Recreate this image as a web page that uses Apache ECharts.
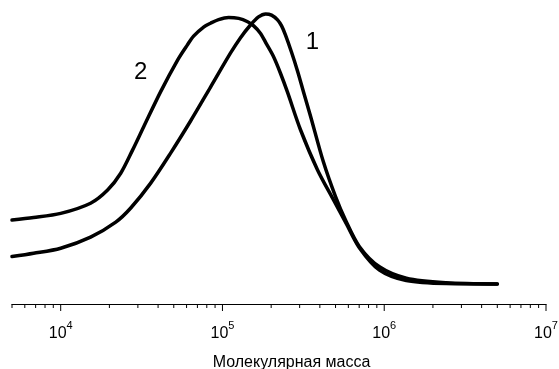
<!DOCTYPE html>
<html>
<head>
<meta charset="utf-8">
<script src="https://cdn.jsdelivr.net/npm/echarts@6/dist/echarts.min.js"></script>
<style>
  html, body { margin: 0; padding: 0; background: #fff; }
  #chart { width: 559px; height: 369px; }
</style>
</head>
<body>
<div id="chart"></div>
<script>
// curve 1
var mass1 = [5000, 6800, 10000, 15300, 21900, 27100, 36000, 47800, 63500, 84400, 112000, 129000, 149000,
  167000, 185000, 201000, 219000, 232000, 245000, 267000, 291000, 317000, 350000, 421000, 500000, 576000,
  703000, 934000, 1370000, 2420000, 5000000];
var value1 = [15.8, 16.9, 18.6, 22.3, 27.3, 32.0, 40.3, 50.3, 61.0, 72.3, 83.6, 88.7, 93.0,
  95.7, 96.7, 96.3, 94.7, 92.7, 89.7, 84.0, 77.7, 70.7, 62.7, 47.3, 35.8, 28.0,
  19.1, 12.4, 8.6, 7.1, 6.7];
// curve 2
var mass2 = [5000, 6800, 10000, 15300, 19500, 23500, 27800, 32600, 41500, 52800, 60600, 66300, 76800,
  84400, 94600, 109000, 126000, 143000, 156000, 172000, 187000, 207000, 228000, 252000, 304000, 387000,
  486000, 584000, 703000, 934000, 1370000, 2420000, 5000000];
var value2 = [28.0, 28.8, 30.2, 33.6, 38.0, 43.6, 51.3, 59.1, 70.8, 81.3, 86.3, 89.3, 92.4,
  93.6, 94.8, 95.5, 95.2, 94.1, 92.7, 90.2, 86.7, 82.4, 77.0, 70.7, 58.0, 44.7,
  34.7, 26.7, 18.7, 11.3, 7.8, 6.8, 6.7];

var majorTicks = [10000, 100000, 1000000, 10000000];
var minorTicks = [5000, 6000, 7000, 8000, 9000];
[10000, 100000, 1000000].forEach(function (d) {
  for (var k = 2; k <= 9; k++) minorTicks.push(k * d);
});

function zip(xs, ys) {
  return xs.map(function (x, i) { return [x, ys[i]]; });
}

function tickSeries(values, len) {
  return {
    type: 'custom',
    silent: true,
    clip: false,
    data: values.map(function (v) { return [v, 0]; }),
    renderItem: function (params, api) {
      var p = api.coord([api.value(0), 0]);
      return {
        type: 'line',
        shape: { x1: p[0], y1: p[1], x2: p[0], y2: p[1] + len },
        style: { stroke: '#000', lineWidth: 1 }
      };
    }
  };
}

var lineStyle = { color: '#000', width: 3.5, cap: 'round', join: 'round' };
var font = 'Liberation Sans, Arial, sans-serif';

var chart = echarts.init(document.getElementById('chart'));
chart.setOption({
  animation: false,
  grid: { left: 12, right: 13, top: 4, bottom: 65, outerBoundsMode: 'none' },
  xAxis: {
    type: 'log',
    logBase: 10,
    min: 5000,
    max: 10000000,
    name: 'Молекулярная масса',
    nameLocation: 'middle',
    nameGap: 51,
    nameTextStyle: { fontFamily: font, fontSize: 16, color: '#000', padding: [0, 0, 0, 25] },
    axisLine: { lineStyle: { color: '#000', width: 1 } },
    axisTick: { show: false },
    splitLine: { show: false },
    axisLabel: {
      margin: 16,
      formatter: function (v) {
        var e = Math.log10(v);
        if (Math.abs(e - Math.round(e)) > 1e-6) return '';
        return '{b|10}{s|' + Math.round(e) + '}';
      },
      rich: {
        b: { fontFamily: font, fontSize: 16, color: '#000', lineHeight: 22, verticalAlign: 'bottom' },
        s: { fontFamily: font, fontSize: 11, color: '#000', lineHeight: 12, verticalAlign: 'top' }
      }
    }
  },
  yAxis: { type: 'value', min: 0, max: 100, show: false },
  series: [
    {
      type: 'line', name: '1', data: zip(mass1, value1), smooth: 0.3, showSymbol: false,
      lineStyle: lineStyle,
      markPoint: {
        symbol: 'circle', symbolSize: 0,
        label: { show: true, formatter: '1', fontFamily: font, fontSize: 24, color: '#000' },
        data: [{ coord: [360000, 87.3] }]
      }
    },
    {
      type: 'line', name: '2', data: zip(mass2, value2), smooth: 0.3, showSymbol: false,
      lineStyle: lineStyle,
      markPoint: {
        symbol: 'circle', symbolSize: 0,
        label: { show: true, formatter: '2', fontFamily: font, fontSize: 24, color: '#000' },
        data: [{ coord: [31200, 77.3] }]
      }
    },
    tickSeries(majorTicks, 7),
    tickSeries(minorTicks, 4)
  ]
});
</script>
</body>
</html>
